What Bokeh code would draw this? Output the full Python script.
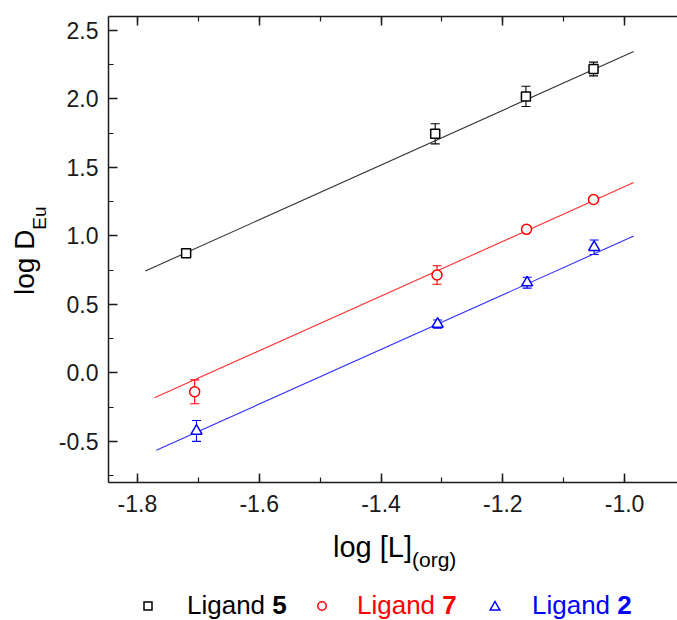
from bokeh.plotting import figure
from bokeh.models import (ColumnDataSource, Whisker, TeeHead, LinearAxis, FixedTicker,
                          Range1d, CustomJSTickFormatter, Div)
from bokeh.layouts import column, row
from bokeh.embed import file_html
from bokeh.resources import INLINE

# ---------------- data ----------------
x_ticks = [-1.8, -1.6, -1.4, -1.2, -1.0]
x_tick_labels = ["-1.8", "-1.6", "-1.4", "-1.2", "-1.0"]
x_minor = [-1.8, -1.7, -1.6, -1.5, -1.4, -1.3, -1.2, -1.1, -1.0, -0.9]
y_ticks = [-0.5, 0.0, 0.5, 1.0, 1.5, 2.0, 2.5]
y_tick_labels = ["-0.5", "0.0", "0.5", "1.0", "1.5", "2.0", "2.5"]
y_minor = [-0.75, -0.5, -0.25, 0.0, 0.25, 0.5, 0.75, 1.0, 1.25, 1.5, 1.75, 2.0, 2.25, 2.5]

lig5_x = [-1.720, -1.311, -1.162, -1.051]
lig5_y = [0.872, 1.744, 2.017, 2.217]
lig5_err = [0.02, 0.073, 0.074, 0.05]
lig5_fit_x = [-1.787, -0.985]
lig5_fit_y = [0.743, 2.345]

lig7_x = [-1.706, -1.308, -1.161, -1.051]
lig7_y = [-0.138, 0.714, 1.047, 1.265]
lig7_err = [0.087, 0.067, 0.02, 0.02]
lig7_fit_x = [-1.772, -0.985]
lig7_fit_y = [-0.182, 1.388]

lig2_x = [-1.703, -1.307, -1.160, -1.050]
lig2_y = [-0.424, 0.356, 0.658, 0.916]
lig2_err = [0.076, 0.03, 0.04, 0.053]
lig2_fit_x = [-1.769, -0.985]
lig2_fit_y = [-0.565, 0.998]

legend_names = ["Ligand", "Ligand", "Ligand"]
legend_nums = ["5", "7", "2"]

FONT = "Liberation Sans"

# ---------------- main figure ----------------
p = figure(width=622, height=525, output_backend="svg", toolbar_location=None,
           x_range=Range1d(-1.8475, -0.9131), y_range=Range1d(-0.8, 2.6),
           min_border_left=52, min_border_right=0, min_border_top=16, min_border_bottom=43)
p.outline_line_color = None
p.grid.visible = False


def style_axis(ax, ticks, minor, labels, show_labels=True):
    ax.ticker = FixedTicker(ticks=ticks, minor_ticks=minor)
    ax.axis_line_width = 1.5
    ax.axis_line_color = "#1a1a1a"
    ax.major_tick_line_color = "#1a1a1a"
    ax.minor_tick_line_color = "#1a1a1a"
    ax.major_tick_line_width = 1.5
    ax.minor_tick_line_width = 1.2
    ax.major_tick_in = 9
    ax.major_tick_out = 0
    ax.minor_tick_in = 5
    ax.minor_tick_out = 0
    if show_labels:
        ax.major_label_overrides = {t: l for t, l in zip(ticks, labels)}
        ax.major_label_text_font = FONT
        ax.major_label_text_font_size = "23px"
        ax.major_label_text_color = "#1a1a1a"
        ax.major_label_standoff = 12
    else:
        ax.formatter = CustomJSTickFormatter(code="return ''")
        ax.major_label_text_font_size = "1px"
        ax.major_label_standoff = 0


style_axis(p.xaxis[0], x_ticks, x_minor, x_tick_labels)
style_axis(p.yaxis[0], y_ticks, y_minor, y_tick_labels)
p.yaxis[0].major_label_standoff = 10

top = LinearAxis()
style_axis(top, x_ticks, x_minor, x_tick_labels, show_labels=False)
p.add_layout(top, "above")

series = [
    (lig5_x, lig5_y, lig5_err, lig5_fit_x, lig5_fit_y, "#000000", "#333333", "square", 9),
    (lig7_x, lig7_y, lig7_err, lig7_fit_x, lig7_fit_y, "#ff0000", "#ff3030", "circle", 10),
    (lig2_x, lig2_y, lig2_err, lig2_fit_x, lig2_fit_y, "#0000ff", "#3030ff", "triangle", 11),
]
for xs, ys, es, fx, fy, col, lcol, mk, sz in series:
    p.line(fx, fy, line_color=lcol, line_width=1.1)
    src = ColumnDataSource(dict(x=xs, y=ys,
                                upper=[a + b for a, b in zip(ys, es)],
                                lower=[a - b for a, b in zip(ys, es)]))
    w = Whisker(source=src, base="x", upper="upper", lower="lower",
                line_color=col, line_width=1.1,
                upper_head=TeeHead(size=9, line_color=col, line_width=1.1),
                lower_head=TeeHead(size=9, line_color=col, line_width=1.1))
    p.add_layout(w)
    p.scatter(xs, ys, marker=mk, size=sz, line_color=col, line_width=1.5, fill_color="white")

# ---------------- y title (rotated) ----------------
ASC = 0.8465  # baseline offset (fraction of font size) with line-height 1
Y_FS, Y_SUB = 28, 19
X_FS, X_SUB = 29, 21

y_html = (
    f'<div style="position:relative;width:55px;height:525px;font-family:\'{FONT}\';color:#000;">'
    f'<div style="position:absolute;left:{35 - ASC * Y_FS:.1f}px;top:295px;'
    f'transform:rotate(-90deg);transform-origin:0 0;white-space:nowrap;'
    f'font-size:{Y_FS}px;line-height:{Y_FS}px;">log D'
    f'<span style="font-size:{Y_SUB}px;position:relative;top:12px;">Eu</span></div></div>'
)
ydiv = Div(text=y_html, width=55, height=525, margin=(0, 0, 0, 0))

# ---------------- x title + legend ----------------
leg_marker_x = [148, 322, 495]
leg_text_x = [187, 357, 532]
leg_cols = ["#000000", "#ff0000", "#0000ff"]
LEG_FS = 26
leg_base = 89  # baseline inside bottom div
leg_cy = 81
marker_svgs = [
    '<rect x="2" y="2" width="8" height="8" fill="none" stroke="{c}" stroke-width="1.5"/>',
    '<circle cx="6" cy="6" r="4.2" fill="none" stroke="{c}" stroke-width="1.5"/>',
    '<polygon points="6,1.5 10.8,10 1.2,10" fill="none" stroke="{c}" stroke-width="1.5"/>',
]
parts = [f'<div style="position:relative;width:677px;height:95px;font-family:\'{FONT}\';color:#000;">']
parts.append(
    f'<div style="position:absolute;left:333px;top:{32 - ASC * X_FS:.1f}px;white-space:nowrap;'
    f'font-size:{X_FS}px;line-height:{X_FS}px;">log [L]'
    f'<span style="font-size:{X_SUB}px;position:relative;top:10px;">(org)</span></div>'
)
for i in range(3):
    c = leg_cols[i]
    parts.append(
        f'<svg style="position:absolute;left:{leg_marker_x[i] - 6}px;top:{leg_cy - 6}px;" '
        f'width="12" height="12">' + marker_svgs[i].format(c=c) + '</svg>'
    )
    parts.append(
        f'<div style="position:absolute;left:{leg_text_x[i]}px;top:{leg_base - ASC * LEG_FS:.1f}px;'
        f'white-space:nowrap;color:{c};font-size:{LEG_FS}px;line-height:{LEG_FS}px;">'
        f'{legend_names[i]} <b>{legend_nums[i]}</b></div>'
    )
parts.append('</div>')
bdiv = Div(text="".join(parts), width=677, height=95, margin=(0, 0, 0, 0))

layout = column(row(ydiv, p, spacing=0), bdiv, spacing=0)
open("out.html", "w").write(file_html(layout, INLINE))
